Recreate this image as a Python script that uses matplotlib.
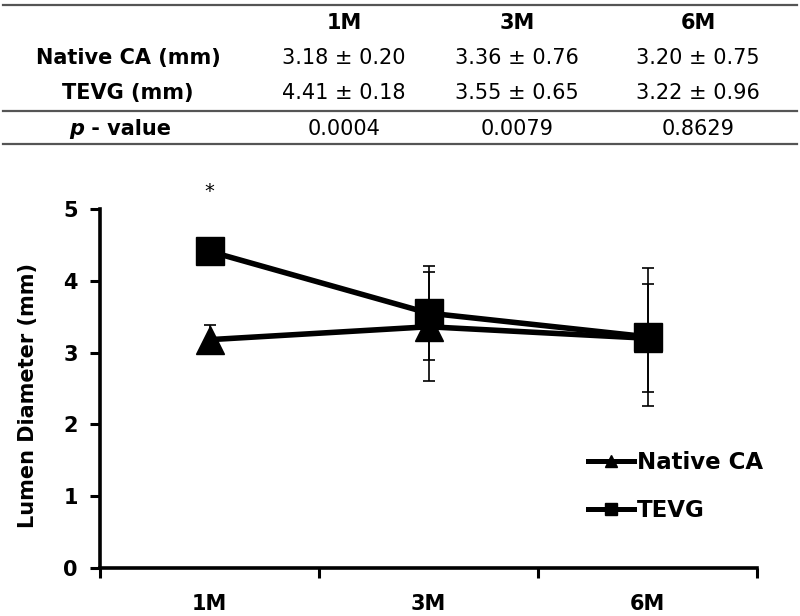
import matplotlib
matplotlib.use("Agg")
import matplotlib.pyplot as plt
from matplotlib.lines import Line2D

# data (mean ± SD, lumen diameter in mm)
periods = ["1M", "3M", "6M"]
native_mean = [3.18, 3.36, 3.20]
native_sd = [0.20, 0.76, 0.75]
tevg_mean = [4.41, 3.55, 3.22]
tevg_sd = [0.18, 0.65, 0.96]
p_values = ["0.0004", "0.0079", "0.8629"]
row_labels = ["Native CA (mm)", "TEVG (mm)"]
sig_marks = ["*", "", ""]

W, H = 800, 616
fig = plt.figure(figsize=(W / 100, H / 100), dpi=100)


def fx(px):
    return px / W


def fy(py):
    return 1 - py / H


# ---- table at the top ----
col_x = [344, 517, 698]
label_x = 128
rule_color = "#555555"
for y in [5, 111, 144]:
    fig.add_artist(Line2D([fx(3), fx(797)], [fy(y), fy(y)],
                          transform=fig.transFigure, color=rule_color, lw=1.6))

for x, p in zip(col_x, periods):
    fig.text(fx(x), fy(23), p, ha="center", va="center",
             fontsize=15, fontweight="bold")

rows = [(native_mean, native_sd), (tevg_mean, tevg_sd)]
for (label, (means, sds)), y in zip(zip(row_labels, rows), [58, 93]):
    fig.text(fx(label_x), fy(y), label, ha="center", va="center",
             fontsize=15, fontweight="bold")
    for x, m, s in zip(col_x, means, sds):
        fig.text(fx(x), fy(y), f"{m:.2f} ± {s:.2f}", ha="center", va="center",
                 fontsize=15)

fig.text(fx(84), fy(129), "p", ha="right", va="center",
         fontsize=15, fontweight="bold", fontstyle="italic")
fig.text(fx(84), fy(129), " - value", ha="left", va="center",
         fontsize=15, fontweight="bold")
for x, p in zip(col_x, p_values):
    fig.text(fx(x), fy(129), p, ha="center", va="center", fontsize=15)

# ---- line chart ----
ax = fig.add_axes([fx(100), fy(568), fx(757) - fx(100), (568 - 209) / H])
xs = list(range(len(periods)))

ax.errorbar(xs, native_mean, yerr=native_sd, fmt="none", ecolor="black",
            elinewidth=1.2, capsize=4.5, capthick=1.2, zorder=2)
ax.errorbar(xs, tevg_mean, yerr=tevg_sd, fmt="none", ecolor="black",
            elinewidth=1.2, capsize=4.5, capthick=1.2, zorder=2)
ax.plot(xs, native_mean, color="black", lw=4.0, marker="^", markersize=20,
        zorder=3, clip_on=False)
ax.plot(xs, tevg_mean, color="black", lw=4.0, marker="s", markersize=20,
        zorder=4, clip_on=False)

for x, mark in zip(xs, sig_marks):
    if mark:
        ax.text(x, 5.25, mark, ha="center", va="center", fontsize=14,
                clip_on=False)

ax.set_xlim(-0.5, len(periods) - 0.5)
ax.set_ylim(0, 5)
ax.set_xticks(xs)
ax.set_xticklabels(periods, fontsize=15, fontweight="bold")
ax.set_xticks([i - 0.5 for i in range(len(periods) + 1)], minor=True)
ax.tick_params(axis="x", which="major", length=0, pad=19)
ax.tick_params(axis="x", which="minor", length=7, width=2.2, direction="out")
ax.set_yticks(range(6))
ax.set_yticklabels([str(v) for v in range(6)], fontsize=15, fontweight="bold")
ax.tick_params(axis="y", length=7, width=2.2, pad=9)

for side in ["top", "right"]:
    ax.spines[side].set_visible(False)
for side in ["left", "bottom"]:
    ax.spines[side].set_linewidth(2.6)

fig.text(fx(28), fy(396), "Lumen Diameter (mm)", rotation=90, ha="center",
         va="center", fontsize=15, fontweight="bold")

handles = [
    Line2D([], [], color="black", lw=3.6, marker="^", markersize=9),
    Line2D([], [], color="black", lw=3.6, marker="s", markersize=9),
]
ax.legend(handles, ["Native CA", "TEVG"], loc="upper left",
          bbox_to_anchor=(fx(588), fy(451)), bbox_transform=fig.transFigure,
          frameon=False, prop={"weight": "bold", "size": 16.5},
          handlelength=2.0, handletextpad=0.15, labelspacing=1.1,
          borderpad=0, borderaxespad=0)

fig.savefig("out.png", dpi=100)
